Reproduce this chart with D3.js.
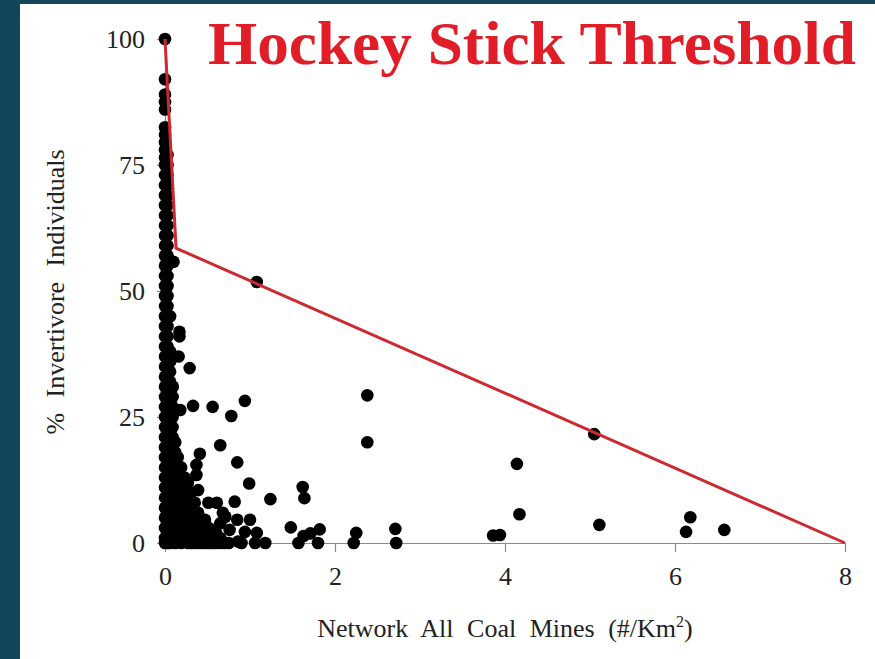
<!DOCTYPE html>
<html><head><meta charset="utf-8">
<script src="https://cdn.jsdelivr.net/npm/d3@7"></script>
<style>html,body{margin:0;padding:0;background:#12465a;} svg{display:block}</style>
</head><body><svg id="chart" width="875" height="659"></svg>
<script>
const titleText = "Hockey Stick Threshold";
const xLabelText = "Network All Coal Mines (#/Km";
const xLabelSup = "2";
const yLabelText = "% Invertivore Individuals";
const xTicks = [0, 2, 4, 6, 8];
const yTicks = [0, 25, 50, 75, 100];
const thresholdLine = [[0, 100], [0.13, 58.5], [8, 0]];

// dense cluster near zero coal-mine density: each column = one x value and its y values
const denseColumns = [
  {x: 0,    ys: [100,92,89,87.5,86,82.5,81,79.5,78,76.5,75,73,71,69,67,65,63,61,59,57,55,53,51,49,47,45,43,41,39,37,35,33,31,29,27,25,23,21,19,17,15,13,11,9,7,5,3,1,0]},
  {x: 0.03, ys: [77,75,73,71,69,67,65,63,61,59,57,55,53,51,49,47,45,43,41,39,37,35,33,31,29,27,25,23,21,19,17,15,13,11,9,7,5,3,1,0]},
  {x: 0.06, ys: [56,45,38,36,34,32,30,28,26,24,22,20,18,16,14,12,10,8,6,4,2,0]},
  {x: 0.09, ys: [31,29,27,25,23,21,19,17,15,13,11,9,7,5,3,1]},
  {x: 0.12, ys: [20,18,16,14,12,10,8,6,4,2,0]},
  {x: 0.15, ys: [17,15,13,11,9,7,5,3,1]},
  {x: 0.19, ys: [15,13,11,9,7,5,3,1,0]},
  {x: 0.23, ys: [13,11,9,7,5,3,1]},
  {x: 0.27, ys: [12,10,8,6,4,2,0]},
  {x: 0.31, ys: [10,8,6,4,2,0]},
  {x: 0.35, ys: [8,6,4,2,0]},
  {x: 0.39, ys: [6,4,2,0]},
  {x: 0.43, ys: [4,2,0]},
  {x: 0.47, ys: [4,2,0]},
  {x: 0.51, ys: [3,1,0]},
  {x: 0.55, ys: [2,0]},
  {x: 0.6,  ys: [2,0]},
  {x: 0.65, ys: [1,0]},
  {x: 0.7,  ys: [0]},
  {x: 0.75, ys: [0]},
  {x: 0.86, ys: [0.3]},
  {x: 0.9,  ys: [0]}
];

// scattered points away from the cluster: [coal mines per km2, % invertivore]
const scatterPoints = [
  [0.1,55.8],[1.08,51.8],[0.17,41.9],[0.17,41],[0.16,37],[0.29,34.7],[0.09,31],
  [0.18,26.4],[0.33,27.2],[0.56,27],[0.78,25.2],[0.94,28.2],
  [2.38,29.3],[2.38,20],[0.65,19.4],[0.41,17.7],[0.85,16],[0.37,15.5],[0.37,13.5],
  [0.99,11.8],[1.62,11.1],[1.64,8.9],[1.24,8.7],[0.82,8.2],[0.39,10.5],[0.51,8],[0.61,8],
  [0.68,6],[1.0,4.6],[0.85,4.6],[0.41,4.5],[0.47,4.6],[0.71,5.2],[0.65,3.9],
  [0.56,2.6],[0.76,2.6],[0.94,2.2],[1.08,2],[0.55,2.2],
  [1.48,3.1],[1.82,2.7],[1.71,1.9],[1.63,1.4],[1.57,0],[1.8,0],
  [2.25,2],[2.22,0],[2.71,2.8],[2.72,0],[1.06,0],[1.18,0],
  [5.05,21.6],[4.14,15.7],[4.17,5.7],[5.11,3.6],[3.86,1.5],[3.94,1.6],
  [6.18,5.1],[6.13,2.2],[6.58,2.6]
];

const svg = d3.select("#chart");
svg.append("rect").attr("x", 20).attr("y", 4).attr("width", 855).attr("height", 655).attr("fill", "#ffffff");

const x = d3.scaleLinear().domain([0, 8]).range([165, 845]);
const y = d3.scaleLinear().domain([0, 100]).range([543, 39]);

const serif = "'Liberation Serif','Times New Roman',serif";

const gx = svg.append("g").attr("transform", "translate(0,543)")
  .call(d3.axisBottom(x).tickValues(xTicks).tickFormat(d3.format("d")).tickSize(9).tickPadding(15).tickSizeOuter(0));
const gy = svg.append("g").attr("transform", "translate(165,0)")
  .call(d3.axisLeft(y).tickValues(yTicks).tickFormat(d3.format("d")).tickSize(8).tickPadding(12).tickSizeOuter(0));
[gx, gy].forEach(g => {
  g.select(".domain").attr("stroke", "#8a8a8a").attr("stroke-width", 1.2);
  g.selectAll(".tick line").attr("stroke", "#8a8a8a").attr("stroke-width", 1.2);
  g.selectAll(".tick text").attr("font-family", serif).attr("font-size", 26).attr("fill", "#222");
});

const densePoints = denseColumns.flatMap(c => c.ys.map(v => [c.x, v]));
const allPoints = densePoints.concat(scatterPoints);
svg.append("g").selectAll("circle").data(allPoints).join("circle")
  .attr("cx", d => x(d[0])).attr("cy", d => y(d[1])).attr("r", 6.3).attr("fill", "#000");

svg.append("path").datum(thresholdLine)
  .attr("d", d3.line().x(d => x(d[0])).y(d => y(d[1])))
  .attr("fill", "none").attr("stroke", "#cc2a30").attr("stroke-width", 3).attr("stroke-linejoin", "miter");

svg.append("text").attr("x", 208).attr("y", 64)
  .attr("font-family", serif).attr("font-weight", "bold").attr("font-size", 62)
  .attr("fill", "#e11d28").attr("textLength", 648).attr("lengthAdjust", "spacingAndGlyphs")
  .text(titleText);

const xl = svg.append("text").attr("x", 505).attr("y", 637).attr("text-anchor", "middle")
  .attr("font-family", serif).attr("font-size", 26).attr("fill", "#222").attr("word-spacing", 7);
xl.append("tspan").text(xLabelText);
xl.append("tspan").attr("font-size", 16).attr("dy", -10).text(xLabelSup);
xl.append("tspan").attr("dy", 10).text(")");

svg.append("text").attr("transform", "translate(64,292) rotate(-90)").attr("text-anchor", "middle")
  .attr("font-family", serif).attr("font-size", 26).attr("fill", "#222").attr("word-spacing", 9)
  .text(yLabelText);
</script></body></html>
